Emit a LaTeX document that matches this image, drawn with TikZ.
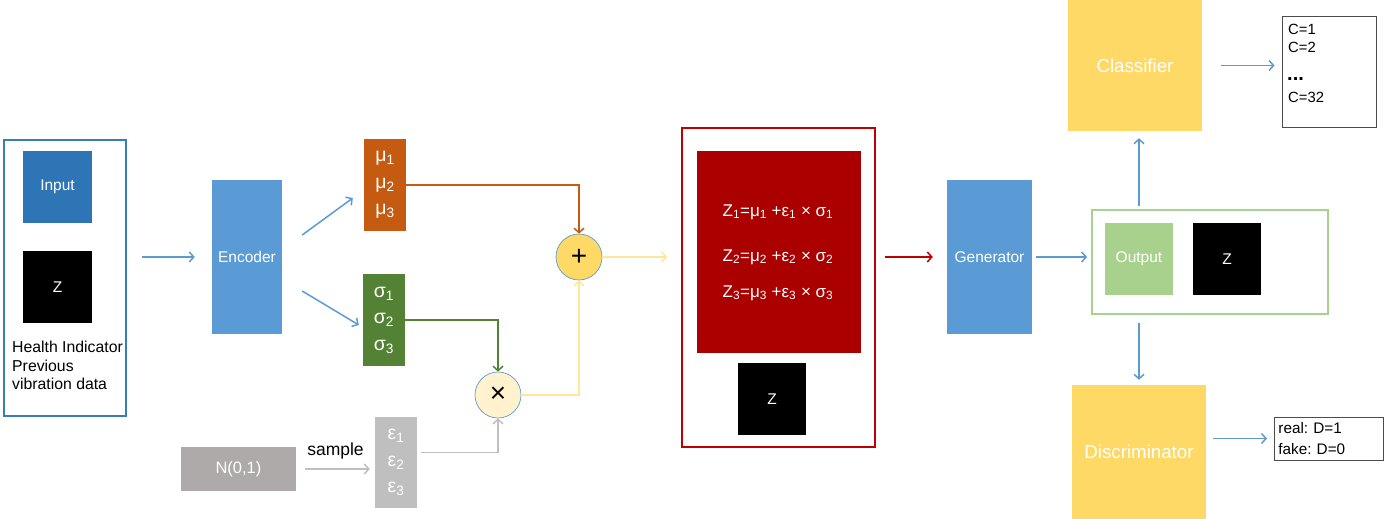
\documentclass[tikz,border=0pt]{standalone}
\usepackage{fontspec}
\setmainfont{Liberation Sans}
\usetikzlibrary{arrows.meta}
\frenchspacing
\definecolor{blueA}{HTML}{2E75B6}
\definecolor{blueB}{HTML}{5B9BD5}
\definecolor{orangeA}{HTML}{C55A11}
\definecolor{greenA}{HTML}{548235}
\definecolor{greenL}{HTML}{A9D18E}
\definecolor{grayA}{HTML}{BFBFBF}
\definecolor{grayB}{HTML}{AEAAAA}
\definecolor{redA}{HTML}{AA0000}
\definecolor{redO}{HTML}{C00000}
\definecolor{yellowA}{HTML}{FFD966}
\definecolor{yellowL}{HTML}{FFE699}
\definecolor{creamA}{HTML}{FFF2CC}
\newcommand{\sbs}[1]{\textsubscript{#1}}
\begin{document}
\begin{tikzpicture}[x=1pt,y=-1pt,
  every node/.style={font=\fontsize{15.5}{18.5}\selectfont, inner sep=0pt},
  blk/.style={rectangle, draw=none, text=white},
  txtL/.style={font=\fontsize{15.5}{18.5}\selectfont, text=black},
  frame/.style={rectangle, fill=white},
  greek/.style={align=center, font=\fontsize{19.5}{26.5}\selectfont},
  arr/.style={line width=1.5pt, -{Straight Barb[length=4.5pt,width=10pt]}},
  circ/.style={circle, draw=blueB, line width=0.7pt, minimum size=46pt, font=\fontsize{28}{30}\selectfont}
]
\useasboundingbox (0,0) rectangle (1395,519);

% left input group
\node[frame, draw=blueA!80!blueB, line width=1.8pt, minimum width=122pt, minimum height=276pt] (left) at (65,278) {};
\node[blk, fill=blueA, minimum width=69pt, minimum height=72pt] (inp) at (57.5,187) {Input};
\node[blk, fill=black, minimum width=69pt, minimum height=72pt] (zl) at (57.5,287) {Z};
\node[txtL, anchor=north west, align=left, font=\fontsize{15.8}{18.5}\selectfont] (hi) at (12,341) {Health Indicator\\Previous\\vibration data};

% encoder
\node[blk, fill=blueB, minimum width=70pt, minimum height=154pt] (enc) at (247,257) {Encoder};

% mu / sigma / eps
\node[blk, greek, fill=orangeA, minimum width=42pt, minimum height=92pt] (mu) at (385,185) {μ\sbs{1}\\μ\sbs{2}\\μ\sbs{3}};
\node[blk, greek, fill=greenA, minimum width=42pt, minimum height=92pt] (sig) at (384,320) {σ\sbs{1}\\σ\sbs{2}\\σ\sbs{3}};
\node[blk, greek, fill=grayA, minimum width=42pt, minimum height=91pt] (eps) at (396,462.5) {ε\sbs{1}\\ε\sbs{2}\\ε\sbs{3}};
\node[blk, fill=grayB, minimum width=115pt, minimum height=44pt, font=\fontsize{16.5}{19}\selectfont] (nd) at (238.5,469) {N(0,1)};

% operators
\node[circ, fill=yellowA] (plus) at (579,257) {+};
\node[circ, fill=creamA] (times) at (498,395) {×};

% latent group
\node[frame, draw=redO, line width=1.5pt, minimum width=193pt, minimum height=319pt] (rbox) at (778.5,287.5) {};
\node[blk, fill=redA, minimum width=164pt, minimum height=202pt] (rfill) at (779,252) {};
\node[text=white, font=\fontsize{17}{20}\selectfont] (e1) at (778,212) {Z\sbs{1}=μ\sbs{1} +ε\sbs{1} × σ\sbs{1}};
\node[text=white, font=\fontsize{17}{20}\selectfont] (e2) at (778,257) {Z\sbs{2}=μ\sbs{2} +ε\sbs{2} × σ\sbs{2}};
\node[text=white, font=\fontsize{17}{20}\selectfont] (e3) at (778,293) {Z\sbs{3}=μ\sbs{3} +ε\sbs{3} × σ\sbs{3}};
\node[blk, fill=black, minimum width=68pt, minimum height=72pt] (zm) at (772,399) {Z};

% generator
\node[blk, fill=blueB, minimum width=85pt, minimum height=154pt] (gen) at (989.5,257) {Generator};

% output group
\node[frame, draw=greenL, line width=1.8pt, minimum width=236pt, minimum height=104pt] (gbox) at (1210,262) {};
\node[blk, fill=greenL, minimum width=68pt, minimum height=72pt] (outp) at (1139,259) {Output};
\node[blk, fill=black, minimum width=68pt, minimum height=72pt] (zr) at (1227,259) {Z};

% classifier / discriminator
\node[blk, fill=yellowA, minimum width=134pt, minimum height=131pt, font=\fontsize{18.7}{22}\selectfont] (cls) at (1135,65.5) {Classifier};
\node[blk, fill=yellowA, minimum width=134pt, minimum height=134pt, font=\fontsize{18.7}{22}\selectfont] (dis) at (1139,452) {Discriminator};

\node[frame, draw=black!70, line width=0.9pt, minimum width=94pt, minimum height=111pt] (clist) at (1329,71.5) {};
\node[txtL, anchor=west, font=\fontsize{14.8}{17}\selectfont] (c1) at (1288,29) {C=1};
\node[txtL, anchor=west, font=\fontsize{14.8}{17}\selectfont] (c2) at (1288,47) {C=2};
\node[txtL, anchor=west, font=\fontsize{20}{22}\selectfont\bfseries] (cd) at (1287,79) {...};
\node[txtL, anchor=west, font=\fontsize{14.8}{17}\selectfont] (c32) at (1288,97) {C=32};

\node[frame, draw=black!70, line width=0.9pt, minimum width=109pt, minimum height=43pt, align=left, anchor=west, font=\fontsize{15.3}{21}\selectfont, text width=101pt, inner xsep=4pt] (dbox) at (1274,438.5) {real: D=1\\fake: D=0};

% connectors
\draw[arr, blueB, shorten <=15pt, shorten >=17pt] (left.east |- enc.west) -- (enc.west);
\draw[arr, blueB] ([shift={(20,-22)}]enc.east) -- ([shift={(-11,13)}]mu.west);
\draw[arr, blueB] ([shift={(20,34)}]enc.east) -- ([shift={(-4,5)}]sig.west);
\draw[arr, orangeA] (mu.east) -| (plus.north);
\draw[arr, greenA] (sig.east) -| (times.north);
\draw[arr, yellowL] (times.east) -| (plus.south);
\draw[arr, grayA, shorten <=4pt] ([yshift=10]eps.east) -| (times.south);
\draw[arr, grayA, shorten <=9pt, shorten >=5pt] (nd.east) -- (nd.east -| eps.west) node[midway, above=9pt, text=black, font=\fontsize{17.5}{20}\selectfont] (smp) {sample};
\draw[arr, yellowL, shorten >=14pt] (plus.east) -- (plus.east -| rbox.west);
\draw[arr, redO, shorten <=9pt, shorten >=14pt] (rbox.east |- gen.west) -- (gen.west);
\draw[arr, blueB, shorten <=4pt, shorten >=4pt] (gen.east) -- (gen.east -| gbox.west);
\draw[arr, blueB, shorten <=3pt, shorten >=7pt] (outp.center |- gbox.north) -- (outp.center |- cls.south);
\draw[arr, blueB, shorten <=8pt, shorten >=5pt] (outp.center |- gbox.south) -- (outp.center |- dis.north);
\draw[arr, blueB, shorten <=19pt, shorten >=7pt] (cls.east) -- (cls.east -| clist.west);
\draw[arr, blueB, shorten <=7pt, shorten >=7pt] (dis.east |- dbox.west) -- (dbox.west);
\end{tikzpicture}
\end{document}
